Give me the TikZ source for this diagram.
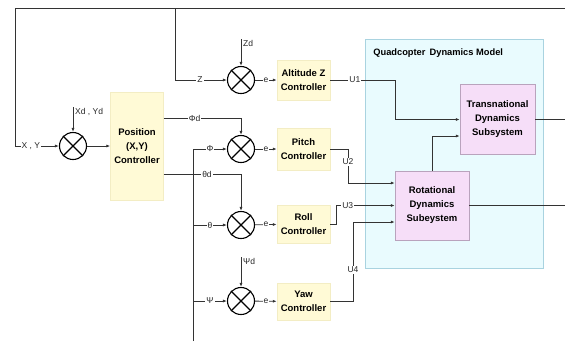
\documentclass[tikz,border=0pt]{standalone}
\usepackage{fontspec}
\setmainfont{Liberation Sans}
\usepackage{tikz}
\usetikzlibrary{arrows.meta, positioning, calc}
\definecolor{ctrlFill}{HTML}{FFFAD6}
\definecolor{ctrlEdge}{HTML}{F3EDC4}
\definecolor{subFill}{HTML}{F6DEF8}
\definecolor{subEdge}{HTML}{B9A3BD}
\definecolor{quadFill}{HTML}{E9FBFE}
\definecolor{quadEdge}{HTML}{A9D3E0}
\definecolor{wire}{HTML}{333333}
\tikzset{
  ctrl/.style={fill=ctrlFill, draw=ctrlEdge, thin, font=\fontsize{9.5}{14}\selectfont\bfseries,
    align=center, minimum width=53pt, inner sep=1pt},
  subsys/.style={fill=subFill, draw=subEdge, thin, font=\fontsize{9.5}{14}\selectfont\bfseries,
    align=center, minimum width=74pt, minimum height=69pt, inner sep=1pt},
  sumj/.style={circle, draw=black, line width=1.1pt, minimum size=27pt, inner sep=0pt},
  sig/.style={draw=wire, line width=0.8pt, -{Latex[length=4pt, width=3pt]}},
  wireL/.style={draw=wire, line width=0.8pt},
  lbl/.style={fill=white, inner sep=1pt, font=\fontsize{8.5}{10}\selectfont, text=black!85},
  dlbl/.style={inner sep=1pt, font=\fontsize{8.5}{10}\selectfont, text=black!85, anchor=north west},
}

\begin{document}
\begin{tikzpicture}[x=1pt, y=-1pt]
\useasboundingbox (0,0) rectangle (565,341);

% ── dynamics model box ───────────────────────────────────────────────────────
\node[fill=quadFill, draw=quadEdge, thin, minimum width=178pt, minimum height=229pt,
  inner sep=0pt] (quad) at (454,153.5) {};
\node[font=\fontsize{9.3}{11}\selectfont\bfseries, anchor=north west] (quadT)
  at ([shift={(5pt,-6pt)}]quad.north west) {Quadcopter\,\ Dynamics Model};

% ── blocks ───────────────────────────────────────────────────────────────────
\node[ctrl, minimum height=108pt] (posC) at (137,146) {Position\\(X,Y)\\Controller};
\node[ctrl, minimum height=40pt] (altC) at (303.5,80) {Altitude Z\\Controller};
\node[ctrl, minimum height=42pt] (pitC) at (303.5,149) {Pitch\\Controller};
\node[ctrl, minimum height=38pt] (rolC) at (303.5,224) {Roll\\Controller};
\node[ctrl, minimum height=37pt] (yawC) at (303.5,301.5) {Yaw\\Controller};
\node[subsys, minimum width=75pt, minimum height=70pt] (trnS) at (497.5,119.5)
  {Transnational\\Dynamics\\Subsystem};
\node[subsys] (rotS) at (432,205.5) {Rotational\\Dynamics\\Subeystem};

% ── summing junctions ────────────────────────────────────────────────────────
\node[sumj] (sXY) at (73,146) {};
\node[sumj] (sZ) at (241,80) {};
\node[sumj] (sP) at (241,149) {};
\node[sumj] (sR) at (241,225) {};
\node[sumj] (sY) at (241,301) {};
\foreach \s in {sXY, sZ, sP, sR, sY}
  \draw[line width=1.1pt] (\s.north west) -- (\s.south east) (\s.north east) -- (\s.south west);

% ── feedback and set points ──────────────────────────────────────────────────
\coordinate (fbR) at (565,8);
\coordinate (fbL) at (15,8);
\coordinate (fbZ) at (175,8);
\coordinate (fbA) at (193,149);
\coordinate (fbB) at (193,341);
\coordinate (xyd) at (73,107);
\coordinate (zd) at (241,39);
\coordinate (psd) at (241,257);

\draw[sig] (fbR) -- (fbL) |- node[lbl, pos=0.68] {X , Y} (sXY);
\draw[sig] (fbZ) |- node[lbl, pos=0.74] {Z} (sZ);
\draw[sig] (xyd) -- (sXY);
\node[dlbl] (xydT) at ([xshift=1pt]xyd) {Xd , Yd};
\draw[sig] (zd) -- (sZ);
\node[dlbl] (zdT) at ([xshift=1pt]zd) {Zd};
\draw[sig] (psd) -- (sY);
\node[dlbl] (psdT) at ([xshift=1pt]psd) {Ψd};
\draw[sig] (sXY) -- (posC);

% attitude references from the position controller
\draw[sig] ([yshift=28pt]posC.east) -| node[lbl, pos=0.2] {Φd} (sP);
\draw[sig] ([yshift=-28pt]posC.east) -| node[lbl, pos=0.28] {θd} (sR);

% measured attitude
\draw[wireL] (fbB) -- (fbA);
\draw[sig] (fbA) -- node[lbl] {Φ} (sP);
\draw[sig] (fbA |- sR) -- node[lbl] {θ} (sR);
\draw[sig] (fbA |- sY) -- node[lbl] {Ψ} (sY);

% errors into controllers
\foreach \s/\c in {sZ/altC, sP/pitC, sR/rolC, sY/yawC}
  \draw[sig] (\s) -- node[lbl] {e} (\c);

% ── control inputs ───────────────────────────────────────────────────────────
\coordinate (k1) at (395,119.5);
\coordinate (k2) at (348,183);
\coordinate (k3) at (336,224);
\coordinate (k4) at (353,222);
\draw[sig] (altC) -| node[lbl, pos=0.19] {U1} (k1) -- (trnS.west);
\draw[sig] (pitC) -| node[lbl, pos=0.69] {U2} (k2) -- (rotS.west |- k2);
\draw[sig] (rolC.east |- k3) -- (k3) |- node[lbl, pos=0.6] {U3} (rotS.west);
\draw[sig] (yawC) -| node[lbl, pos=0.7] {U4} (k4) -- (rotS.west |- k4);
\draw[sig] (rotS.north) |- ([yshift=-16.5pt]trnS.west);

% ── outputs ──────────────────────────────────────────────────────────────────
\draw[wireL] (trnS) -- (trnS -| fbR);
\draw[wireL] (rotS) -- (rotS -| fbR);

\end{tikzpicture}
\end{document}
